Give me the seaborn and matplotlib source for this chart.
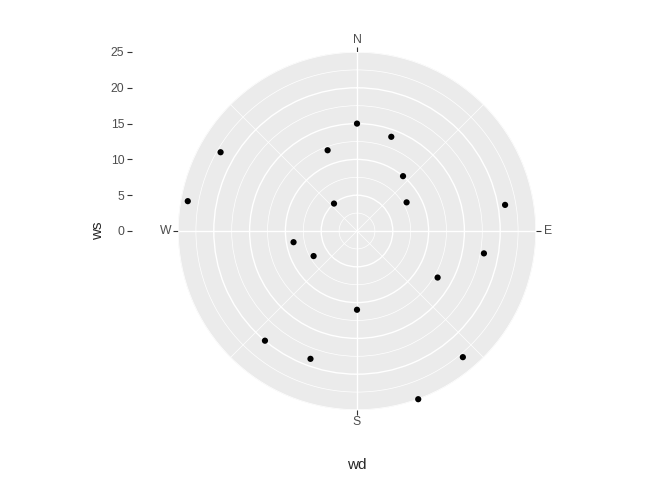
import numpy as np
import pandas as pd
import matplotlib
matplotlib.use("Agg")
import matplotlib.pyplot as plt
import seaborn as sns

# data
wd = [0, 20, 40, 60, 80, 100, 120, 140, 160, 180, 200, 220, 240, 260, 280, 300, 320, 340]
ws = [15, 14, 10, 8, 21, 18, 13, 23, 25, 11, 19, 20, 7, 9, 24, 22, 5, 12]
ws_ticks = [0, 5, 10, 15, 20, 25]
dir_ticks = [0, 90, 180, 270]
dir_labels = ["N", "E", "S", "W"]

df = pd.DataFrame({"wd": wd, "ws": ws})
df["theta"] = np.deg2rad(df["wd"])

sns.set_style("white")
plt.rcParams["font.family"] = ["Liberation Sans", "DejaVu Sans"]

W, H = 672, 480
fig = plt.figure(figsize=(W / 100, H / 100), dpi=100)

cx, cy, rad = 357, 231, 179
ax = fig.add_axes([(cx - rad) / W, (H - cy - rad) / H, 2 * rad / W, 2 * rad / H],
                  projection="polar")
ax.set_theta_zero_location("N")
ax.set_theta_direction(-1)
ax.set_facecolor("#EBEBEB")
ax.spines["polar"].set_visible(False)

sns.scatterplot(data=df, x="theta", y="ws", ax=ax, color="black", s=20,
                edgecolor="none", zorder=5, clip_on=False)
ax.set_ylim(0, 25)

ax.set_xticks(np.deg2rad(dir_ticks))
ax.set_xticklabels(dir_labels, color="#4D4D4D", fontsize=8.8)
ax.set_xticks(np.deg2rad([45, 135, 225, 315]), minor=True)
ax.set_yticks([5, 10, 15, 20, 25])
ax.set_yticks([2.5, 7.5, 12.5, 17.5, 22.5], minor=True)
ax.set_yticklabels([])
ax.grid(True, which="major", color="white", linewidth=1.0)
ax.grid(True, which="minor", color="white", linewidth=0.5)
ax.tick_params(axis="x", which="major", bottom=False, top=True, length=3.5,
               direction="out", color="#333333", width=0.8, pad=-2)
ax.tick_params(axis="x", which="minor", length=0)
ax.tick_params(axis="y", which="both", length=0)
ax.set_xlabel("")
ax.set_ylabel("")

# left radial scale, like ggplot's y axis
yax = fig.add_axes([132 / W, (H - cy) / H, 0.001, rad / H])
yax.set_ylim(0, 25)
yax.set_yticks(ws_ticks)
yax.set_yticklabels([str(v) for v in ws_ticks], color="#4D4D4D", fontsize=8.8)
yax.set_xticks([])
for s in yax.spines.values():
    s.set_visible(False)
yax.patch.set_alpha(0)
yax.tick_params(axis="y", left=True, length=3.5, color="#333333", width=0.8, pad=2)

fig.text(98 / W, 1 - 231 / H, "ws", rotation=90, ha="center", va="center", fontsize=11)
fig.text(cx / W, 1 - 465 / H, "wd", ha="center", va="center", fontsize=11)

fig.savefig("out.png", dpi=100)
